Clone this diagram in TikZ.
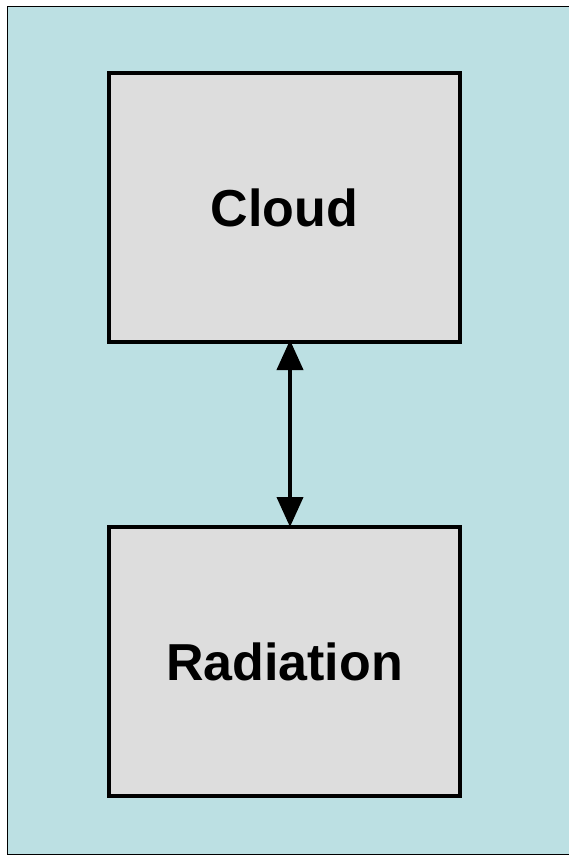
\documentclass[tikz,border=0pt]{standalone}
\usepackage{fontspec}
\setmainfont{Liberation Sans}
\usetikzlibrary{arrows.meta}
\definecolor{bgblue}{HTML}{BCE0E3}
\definecolor{boxgray}{HTML}{DDDDDD}
\tikzset{
  blockbox/.style={draw=black, line width=4pt, fill=boxgray, minimum width=351pt, minimum height=269pt, inner sep=0pt, font=\fontsize{52}{60}\selectfont\bfseries},
  link/.style={line width=4pt, {Triangle[length=30pt,width=26pt]}-{Triangle[length=30pt,width=26pt]}, shorten <=-4pt, shorten >=-2pt}
}
\begin{document}
\begin{tikzpicture}[x=1pt,y=-1pt]
\useasboundingbox (0,0) rectangle (568,856);
\draw[fill=bgblue, line width=1.5pt] (7.5,6.5) rectangle (575,854.5);
\node[blockbox] (cloud) at (284.5,207.5) {Cloud};
\node[blockbox] (rad) at (284.5,661.5) {Radiation};
\draw[link] ([xshift=5.5pt]cloud.south) -- ([xshift=5.5pt]rad.north);
\end{tikzpicture}
\end{document}
